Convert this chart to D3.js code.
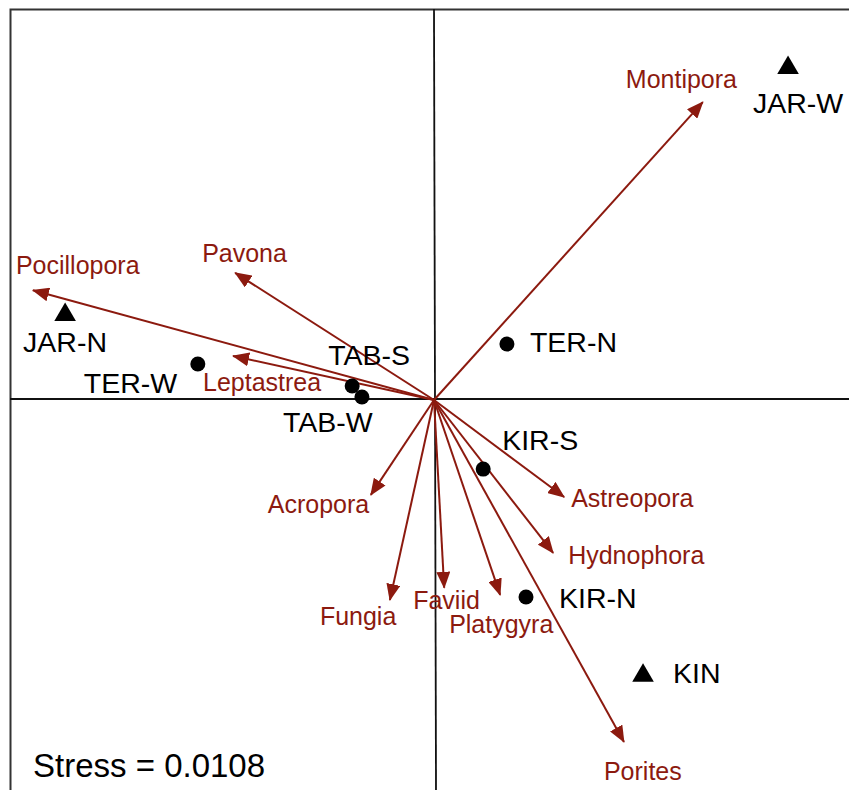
<!DOCTYPE html>
<html>
<head>
<meta charset="utf-8">
<script src="https://cdn.jsdelivr.net/npm/d3@7/dist/d3.min.js"></script>
<style>
  html, body { margin: 0; padding: 0; background: #fff; }
  svg { display: block; }
  text { font-family: "Liberation Sans", Arial, Helvetica, sans-serif; }
</style>
</head>
<body>
<svg id="chart" width="849" height="790"></svg>
<script>
// ---- Data (NMDS ordination) ----
const sites      = ["JAR-W", "JAR-N", "TER-W", "TAB-S", "TAB-W", "TER-N", "KIR-S", "KIR-N", "KIN"];
const siteX      = [0.835, -0.870, -0.557, -0.193, -0.170, 0.172, 0.116, 0.217, 0.493];
const siteY      = [0.788, 0.205, 0.085, 0.033, 0.007, 0.132, -0.163, -0.465, -0.646];
const siteShape  = ["triangle", "triangle", "circle", "circle", "circle", "circle", "circle", "circle", "triangle"];

const species    = ["Montipora", "Pocillopora", "Pavona", "Leptastrea", "Acropora", "Fungia", "Faviid", "Platygyra", "Astreopora", "Hydnophora", "Porites"];
const speciesX   = [0.634, -0.946, -0.469, -0.474, -0.149, -0.104, 0.024, 0.156, 0.307, 0.281, 0.448];
const speciesY   = [0.703, 0.259, 0.300, 0.104, -0.224, -0.472, -0.443, -0.460, -0.229, -0.361, -0.807];

const stressLabel = "Stress = 0.0108";

// ---- Layout (label offsets in px relative to marker / arrow tip) ----
const siteLabelOffset = {
  "JAR-W": [-35, 47], "JAR-N": [-42, 39], "TER-W": [-114, 29], "TAB-S": [-24, -21],
  "TAB-W": [-79, 35], "TER-N": [23, 8], "KIR-S": [19, -19], "KIR-N": [33, 11], "KIN": [30, 9]
};
const speciesLabelOffset = {
  "Montipora": [-77, -14], "Pocillopora": [-17, -16], "Pavona": [-33, -11], "Leptastrea": [-30, 35],
  "Acropora": [-103, 18], "Fungia": [-70, 25], "Faviid": [-31, 21], "Platygyra": [-51, 38],
  "Astreopora": [7, 10], "Hydnophora": [15, 11], "Porites": [-20, 38]
};

const RED = "#8c1a0f";
const svg = d3.select("#chart");

const x = d3.scaleLinear().domain([-1, 1]).range([10, 858]);
const y = d3.scaleLinear().domain([-0.925, 0.925]).range([792, 8]);

// Frame (extends beyond right/bottom edge)
svg.append("rect")
  .attr("x", x(-1) + 0.5).attr("y", y(0.925) + 1.5)
  .attr("width", 900).attr("height", 900)
  .attr("fill", "none").attr("stroke", "#333").attr("stroke-width", 2);

// Axes through origin
svg.append("line")
  .attr("x1", x(-1)).attr("x2", 849).attr("y1", y(0) - 1).attr("y2", y(0) - 1)
  .attr("stroke", "#111").attr("stroke-width", 1.8);
svg.append("line")
  .attr("x1", x(0)).attr("x2", x(0) + 2).attr("y1", y(0.925) + 1).attr("y2", 790)
  .attr("stroke", "#111").attr("stroke-width", 1.8);

// Arrowhead marker
svg.append("defs").append("marker")
  .attr("id", "ah")
  .attr("markerUnits", "userSpaceOnUse")
  .attr("markerWidth", 17).attr("markerHeight", 14)
  .attr("viewBox", "0 0 17 14")
  .attr("refX", 16).attr("refY", 7)
  .attr("orient", "auto")
  .append("path").attr("d", "M0,0 L17,7 L0,14 Z").attr("fill", RED);

const spData = species.map((s, i) => ({ name: s, x: speciesX[i], y: speciesY[i] }));

svg.append("g").selectAll("line").data(spData).join("line")
  .attr("x1", x(0)).attr("y1", y(0))
  .attr("x2", d => x(d.x)).attr("y2", d => y(d.y))
  .attr("stroke", RED).attr("stroke-width", 2)
  .attr("marker-end", "url(#ah)");

svg.append("g").selectAll("text").data(spData).join("text")
  .attr("x", d => x(d.x) + speciesLabelOffset[d.name][0])
  .attr("y", d => y(d.y) + speciesLabelOffset[d.name][1])
  .attr("fill", RED).attr("font-size", 25)
  .text(d => d.name);

// Sites
const stData = sites.map((s, i) => ({ name: s, x: siteX[i], y: siteY[i], shape: siteShape[i] }));
const gs = svg.append("g");
gs.selectAll("circle").data(stData.filter(d => d.shape === "circle")).join("circle")
  .attr("cx", d => x(d.x)).attr("cy", d => y(d.y)).attr("r", 7.5).attr("fill", "#000");
gs.selectAll("path").data(stData.filter(d => d.shape === "triangle")).join("path")
  .attr("transform", d => `translate(${x(d.x)},${y(d.y)})`)
  .attr("d", "M0,-10.5 L10.8,8 L-10.8,8 Z").attr("fill", "#000");

gs.selectAll("text").data(stData).join("text")
  .attr("x", d => x(d.x) + siteLabelOffset[d.name][0])
  .attr("y", d => y(d.y) + siteLabelOffset[d.name][1])
  .attr("fill", "#000").attr("font-size", 28.5)
  .text(d => d.name);

// Stress annotation
svg.append("text")
  .attr("x", 33).attr("y", 777)
  .attr("font-size", 33).attr("fill", "#000")
  .text(stressLabel);
</script>
</body>
</html>
